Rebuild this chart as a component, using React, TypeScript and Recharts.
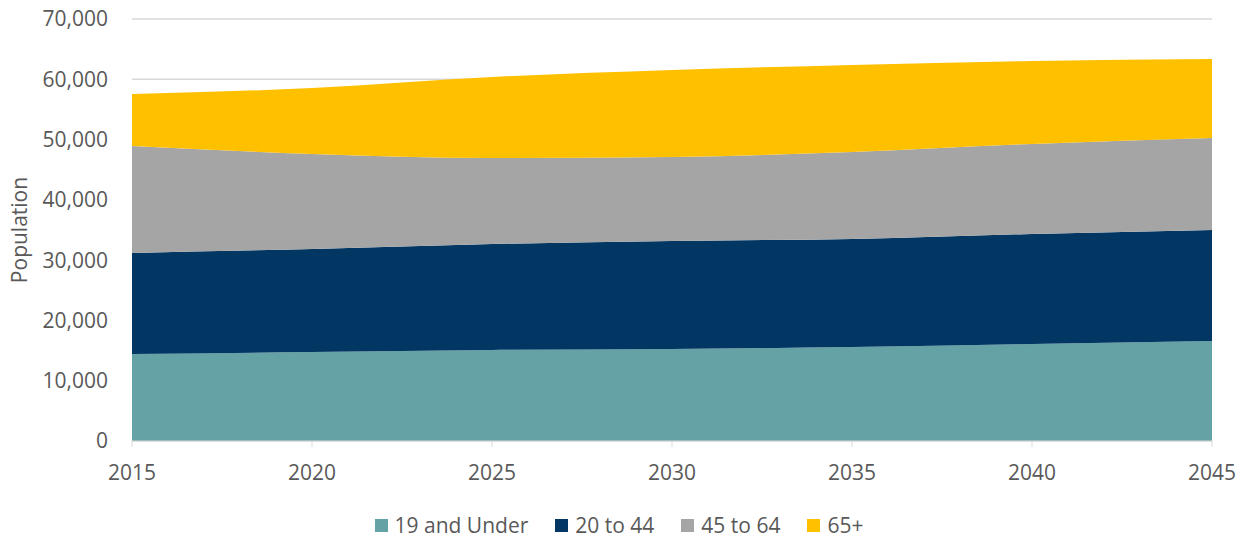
import React from "react";
import { AreaChart, Area, XAxis, YAxis, CartesianGrid, Legend } from "recharts";

// ── data ──────────────────────────────────────────────────────────────────────
const years = [2015, 2020, 2025, 2030, 2035, 2040, 2045];
const under19 = [14430, 14760, 15100, 15260, 15590, 16090, 16590];
const age20to44 = [16760, 17090, 17580, 17920, 17920, 18250, 18410];
const age45to64 = [17740, 15760, 14260, 13930, 14430, 14930, 15260];
const age65plus = [8630, 10940, 13440, 14430, 14430, 13760, 13100];
const xTicks = [2015, 2020, 2025, 2030, 2035, 2040, 2045];
const yTicks = [0, 10000, 20000, 30000, 40000, 50000, 60000, 70000];

const series = [
  { key: "under19", name: "19 and Under", color: "#65A2A5" },
  { key: "age20to44", name: "20 to 44", color: "#023764" },
  { key: "age45to64", name: "45 to 64", color: "#A5A5A5" },
  { key: "age65plus", name: "65+", color: "#FFC000" },
];

const data = years.map((year, i) => ({
  year,
  under19: under19[i],
  age20to44: age20to44[i],
  age45to64: age45to64[i],
  age65plus: age65plus[i],
}));

const FONT = "'Open Sans', sans-serif";
const TEXT = "#595959";

function LegendRow() {
  return (
    <div
      style={{
        height: 50,
        display: "flex",
        justifyContent: "center",
        alignItems: "flex-end",
        gap: 27,
        fontFamily: FONT,
        fontSize: 21,
        color: TEXT,
        lineHeight: "28px",
        paddingBottom: 2,
        paddingRight: 12,
        boxSizing: "border-box",
      }}
    >
      {series.map((s) => (
        <div key={s.key} style={{ display: "flex", alignItems: "center", gap: 7 }}>
          <span style={{ width: 13, height: 13, background: s.color, display: "inline-block" }} />
          <span>{s.name}</span>
        </div>
      ))}
    </div>
  );
}

export default function App() {
  return (
    <div style={{ position: "absolute", left: 0, top: 0, background: "#fff" }}>
      <AreaChart
        width={1250}
        height={541}
        data={data}
        margin={{ top: 19, right: 38, left: 0, bottom: 0 }}
      >
        <CartesianGrid vertical={false} stroke="#D9D9D9" strokeWidth={1.5} />
        <XAxis
          dataKey="year"
          type="number"
          domain={[2015, 2045]}
          ticks={xTicks}
          height={50}
          stroke="#D9D9D9"
          tickSize={6}
          tickMargin={18}
          tick={{ fontSize: 21, fill: TEXT, fontFamily: FONT }}
        />
        <YAxis
          width={132}
          domain={[0, 70000]}
          ticks={yTicks}
          axisLine={false}
          tickLine={false}
          tickMargin={18}
          tickFormatter={(v: number) => v.toLocaleString("en-US")}
          tick={{ fontSize: 21, fill: TEXT, fontFamily: FONT }}
          label={{
            value: "Population",
            angle: -90,
            position: "insideLeft",
            offset: 20,
            style: { fontSize: 21, fill: TEXT, fontFamily: FONT, textAnchor: "middle" },
          }}
        />
        <Legend verticalAlign="bottom" height={50} wrapperStyle={{ left: 0, width: 1250 }} content={<LegendRow />} />
        {series.map((s) => (
          <Area
            key={s.key}
            type="monotone"
            dataKey={s.key}
            name={s.name}
            stackId="pop"
            fill={s.color}
            fillOpacity={1}
            stroke="none"
            isAnimationActive={false}
          />
        ))}
      </AreaChart>
    </div>
  );
}
